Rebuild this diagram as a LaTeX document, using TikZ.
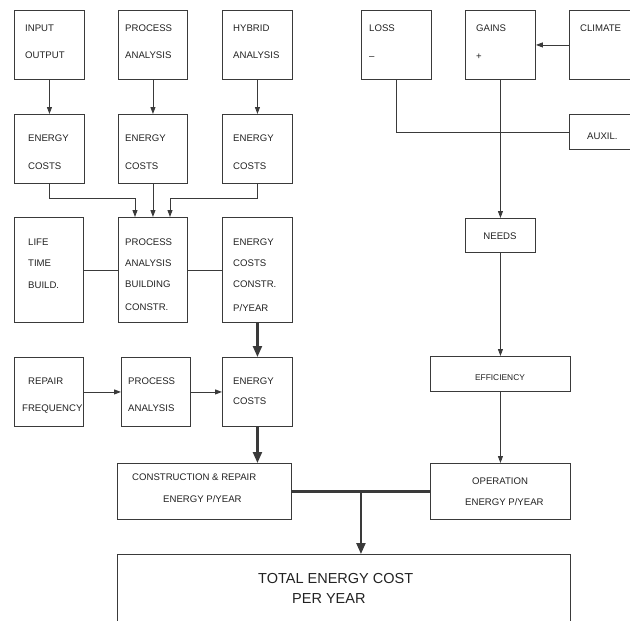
\documentclass[tikz,border=0pt]{standalone}
\usepackage{fontspec}
\setmainfont{Liberation Sans}
\usetikzlibrary{arrows.meta,calc}
\definecolor{linegray}{HTML}{3A3A3A}
\definecolor{textgray}{HTML}{222222}
\newcommand\mybox[5]{\node[box,minimum width={(#4-#2)*1pt},minimum height={(#5-#3)*1pt}] (#1) at (#2,#3) {};}
\newcommand\mytxt[4]{\node[lbl] (#1) at (#2,#3) {#4};}
\begin{document}
\begin{tikzpicture}[x=1pt,y=-1pt,
  box/.style={draw=linegray,line width=0.9pt,inner sep=0pt,anchor=north west},
  lbl/.style={anchor=base west,inner sep=0pt,font=\fontsize{9.6}{11}\selectfont,text=textgray},
  ln/.style={draw=linegray,line width=0.9pt},
  arr/.style={ln,-{Triangle[length=7pt,width=5pt]}},
  thk/.style={draw=linegray,line width=2.2pt},
  thkarr/.style={thk,-{Triangle[length=11pt,width=9pt]}}]
\useasboundingbox (0,0) rectangle (630,621);
\clip (0,0) rectangle (630,621);
% boxes
\mybox{io}{14}{10}{84}{79}
\mybox{pa}{118}{10}{187}{79}
\mybox{ha}{222}{10}{292}{79}
\mybox{ecA}{14}{114}{84}{183}
\mybox{ecB}{118}{114}{187}{183}
\mybox{ecC}{222}{114}{292}{183}
\mybox{life}{14}{217}{83}{322}
\mybox{pabc}{118}{217}{187}{322}
\mybox{eccp}{222}{217}{292}{322}
\mybox{rep}{14}{357}{83}{426}
\mybox{paB}{121}{357}{190}{426}
\mybox{ecD}{222}{357}{292}{426}
\mybox{loss}{361}{10}{431}{79}
\mybox{gains}{465}{10}{535}{79}
\mybox{climate}{569}{10}{645}{79}
\mybox{auxil}{569}{114}{645}{149}
\mybox{needs}{465}{218}{535}{252}
\mybox{eff}{430}{356}{570}{391}
\mybox{cr}{117}{463}{291}{519}
\mybox{op}{430}{463}{570}{519}
\mybox{total}{117}{554}{570}{645}
% texts
\mytxt{t1}{25}{31.5}{INPUT}
\mytxt{t2}{25}{58.5}{OUTPUT}
\mytxt{t3}{125}{31.5}{PROCESS}
\mytxt{t4}{125}{58.5}{ANALYSIS}
\mytxt{t5}{233}{31.5}{HYBRID}
\mytxt{t6}{233}{58.5}{ANALYSIS}
\mytxt{t7}{28}{141.5}{ENERGY}
\mytxt{t8}{28}{169.5}{COSTS}
\mytxt{t9}{125}{141.5}{ENERGY}
\mytxt{t10}{125}{169.5}{COSTS}
\mytxt{t11}{233}{141.5}{ENERGY}
\mytxt{t12}{233}{169.5}{COSTS}
\mytxt{t13}{28}{245.5}{LIFE}
\mytxt{t14}{28}{266.5}{TIME}
\mytxt{t15}{28}{288.5}{BUILD.}
\mytxt{t16}{125}{245.5}{PROCESS}
\mytxt{t17}{125}{266.5}{ANALYSIS}
\mytxt{t18}{125}{287.5}{BUILDING}
\mytxt{t19}{125}{310.5}{CONSTR.}
\mytxt{t20}{233}{245.5}{ENERGY}
\mytxt{t21}{233}{266.5}{COSTS}
\mytxt{t22}{233}{287.5}{CONSTR.}
\mytxt{t23}{233}{311.5}{P/YEAR}
\mytxt{t24}{28}{384.5}{REPAIR}
\mytxt{t25}{22}{411.5}{FREQUENCY}
\mytxt{t26}{128}{384.5}{PROCESS}
\mytxt{t27}{128}{411.5}{ANALYSIS}
\mytxt{t28}{233}{384.5}{ENERGY}
\mytxt{t29}{233}{404.5}{COSTS}
\mytxt{t30}{369}{31.5}{LOSS}
\mytxt{t31}{369}{59}{--}
\mytxt{t32}{476}{31.5}{GAINS}
\mytxt{t33}{476}{59}{+}
\mytxt{t34}{580}{31.5}{CLIMATE}
\mytxt{t35}{587}{139.5}{AUXIL.}
\node[lbl,anchor=base] (t36) at (500,239.5) {NEEDS};
\node[lbl,anchor=base,font=\fontsize{8.4}{10}\selectfont] (t37) at (500,380.5) {EFFICIENCY};
\mytxt{t38}{132}{480.5}{CONSTRUCTION \& REPAIR}
\mytxt{t39}{163}{502.5}{ENERGY P/YEAR}
\mytxt{t40}{472}{484.5}{OPERATION}
\mytxt{t41}{465}{505.5}{ENERGY P/YEAR}
\node[lbl,font=\fontsize{14.5}{17}\selectfont] (t42) at (258,583) {TOTAL ENERGY COST};
\node[lbl,font=\fontsize{14.5}{17}\selectfont] (t43) at (292,603) {PER YEAR};
% connectors
\coordinate (mA) at (135,198);
\coordinate (mC) at (170,198);
\draw[arr] (io.south) -- (ecA.north);
\draw[arr] (pa.south) -- (ecB.north);
\draw[arr] (ha.south) -- (ecC.north);
\draw[arr] (ecA.south) |- (mA) -- (mA |- pabc.north);
\draw[arr] (ecB.south) -- (pabc.north);
\draw[arr] (ecC.south) |- (mC) -- (mC |- pabc.north);
\draw[ln] (life.east) -- (pabc.west);
\draw[ln] (pabc.east) -- (eccp.west);
\draw[thkarr] (eccp.south) -- (ecD.north);
\draw[arr] (rep.east) -- (paB.west);
\draw[arr] (paB.east) -- (ecD.west);
\draw[thkarr] (ecD.south) -- (ecD.south |- cr.north);
\draw[arr] (climate.west) -- (gains.east);
\draw[ln] (loss.south) |- (auxil.west);
\draw[arr] (gains.south) -- (needs.north);
\draw[arr] (needs.south) -- (eff.north);
\draw[arr] (eff.south) -- (op.north);
\coordinate (jn) at ($(cr.east)!0.5!(op.west)$);
\draw[thk] (cr.east) -- (op.west);
\draw[thkarr] (jn) -- (jn |- total.north);
\end{tikzpicture}
\end{document}
